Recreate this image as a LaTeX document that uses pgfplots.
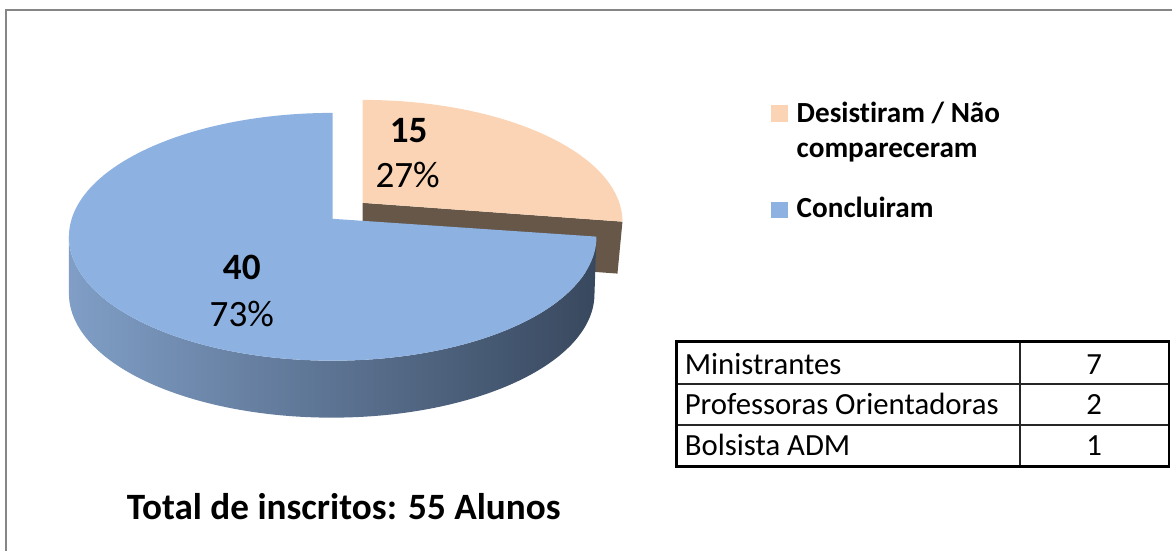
\documentclass[border=0pt]{standalone}
\usepackage{pgfplots}
\pgfplotsset{compat=1.18}
\usepackage{fontspec}
\setmainfont{Carlito}[Ligatures=NoCommon]
\definecolor{peach}{RGB}{250,212,180}
\definecolor{brownside}{RGB}{103,87,72}
\definecolor{bluetop}{RGB}{141,178,226}
\definecolor{sideL}{RGB}{128,158,198}
\definecolor{sideM}{RGB}{86,106,136}
\definecolor{sideR}{RGB}{56,72,94}
\definecolor{framegray}{RGB}{134,134,134}
\begin{document}
\begin{tikzpicture}
% ---- data ----
\def\vDes{15}% Desistiram / Nao compareceram
\def\vCon{40}% Concluiram
% ---- geometry derived from the data ----
\pgfmathsetmacro{\thetaA}{90-360*\vDes/(\vDes+\vCon)}
\pgfmathsetmacro{\bz}{18/124}
\pgfmathsetmacro{\tr}{-\bz*sin(\thetaA)+sqrt(1-\bz*\bz*cos(\thetaA)*cos(\thetaA))}
\pgfmathsetmacro{\phiA}{atan2(\bz+\tr*sin(\thetaA),\tr*cos(\thetaA))}
\pgfmathsetmacro{\phiB}{\phiA+360}
\pgfmathsetmacro{\oxA}{363+260*cos(\phiA)}
\pgfmathsetmacro{\oyA}{329+122*sin(\phiA)}
\pgfmathtruncatemacro{\pctDes}{round(100*\vDes/(\vDes+\vCon))}
\pgfmathtruncatemacro{\pctCon}{round(100*\vCon/(\vDes+\vCon))}
\begin{axis}[scale only axis, width=586.5pt, height=275.5pt,
  xmin=0, xmax=1173, ymin=0, ymax=551, hide axis, clip=false]
\path (axis cs:0,0) rectangle (axis cs:1173,551);
% chart frame
\draw[framegray, line width=1pt] (axis cs:6.5,0) -- (axis cs:6.5,540.5) -- (axis cs:1173,540.5);
% exploded slice: side face then top
\fill[brownside] (axis cs:363,348) -- (axis cs:\oxA,\oyA) -- ++(-2.5pt,-26pt) -- ([yshift=-26pt]axis cs:363,348) -- cycle;
\fill[peach] (axis cs:363,348) -- (axis cs:\oxA,\oyA)
   arc[start angle=\phiA, end angle=90, x radius=130pt, y radius=61pt] -- cycle;
% large slice: side then top
\shade[left color=sideL, middle color=sideM, right color=sideR]
   (axis cs:69,314) arc[start angle=180, end angle=\phiB, x radius=132pt, y radius=62pt]
   -- ++(-1pt,-28.5pt)
   arc[start angle=\phiB, end angle=180, x radius=131.5pt, y radius=62pt] -- cycle;
\fill[bluetop] (axis cs:333,332) -- (axis cs:333,438)
   arc[start angle=90, end angle=\phiB, x radius=132pt, y radius=62pt] -- cycle;
% data labels
\node[anchor=base, font=\fontsize{18.6}{22}\selectfont\bfseries] at (axis cs:409,408) {\vDes};
\node[anchor=base, font=\fontsize{18.6}{22}\selectfont] at (axis cs:408,363) {\pctDes\%};
\node[anchor=base, font=\fontsize{18.6}{22}\selectfont\bfseries] at (axis cs:242,271) {\vCon};
\node[anchor=base, font=\fontsize{18.6}{22}\selectfont] at (axis cs:242,224) {\pctCon\%};
% title below pie
\node[anchor=base, font=\fontsize{18.6}{22}\selectfont\bfseries] at (axis cs:344,31) {Total de inscritos: 55 Alunos};
% legend
\fill[peach] (axis cs:772,429) rectangle (axis cs:789,446);
\node[anchor=base west, inner sep=0pt, font=\fontsize{14.6}{17}\selectfont\bfseries] at (axis cs:797,428) {Desistiram / Não};
\node[anchor=base west, inner sep=0pt, font=\fontsize{14.6}{17}\selectfont\bfseries] at (axis cs:797,393) {compareceram};
\fill[bluetop] (axis cs:772,333) rectangle (axis cs:789,349);
\node[anchor=base west, inner sep=0pt, font=\fontsize{14.6}{17}\selectfont\bfseries] at (axis cs:797,333) {Concluiram};
% table
\draw[black!85, line width=0.9pt] (axis cs:676,167) -- (axis cs:1171,167);
\draw[black!85, line width=0.9pt] (axis cs:676,126) -- (axis cs:1171,126);
\draw[black!85, line width=0.9pt] (axis cs:1021,83) -- (axis cs:1021,210);
\draw[black, line width=1.4pt] (axis cs:677,84) rectangle (axis cs:1170,209);
\node[anchor=base west, inner sep=0pt, font=\fontsize{15.4}{18}\selectfont] at (axis cs:685,176) {Ministrantes};
\node[anchor=base west, inner sep=0pt, font=\fontsize{15.4}{18}\selectfont] at (axis cs:685,136) {Professoras Orientadoras};
\node[anchor=base west, inner sep=0pt, font=\fontsize{15.4}{18}\selectfont] at (axis cs:685,95) {Bolsista ADM};
\node[anchor=base, inner sep=0pt, font=\fontsize{15.4}{18}\selectfont] at (axis cs:1095,176) {7};
\node[anchor=base, inner sep=0pt, font=\fontsize{15.4}{18}\selectfont] at (axis cs:1095,136) {2};
\node[anchor=base, inner sep=0pt, font=\fontsize{15.4}{18}\selectfont] at (axis cs:1095,95) {1};
\end{axis}
\end{tikzpicture}
\end{document}
